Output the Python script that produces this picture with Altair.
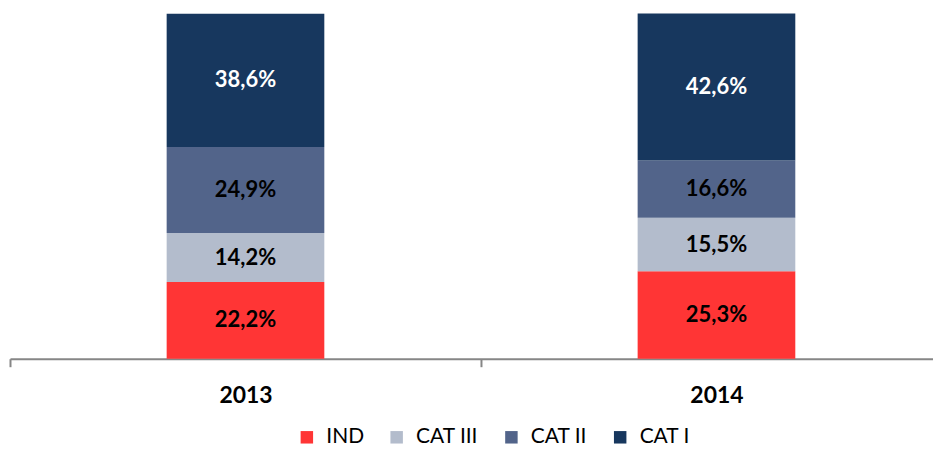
import altair as alt
import pandas as pd

years = ["2013", "2014"]
segments = ["IND", "CAT III", "CAT II", "CAT I"]
share_2013 = [22.2, 14.2, 24.9, 38.6]
share_2014 = [25.3, 15.5, 16.6, 42.6]

fill_colors = ["#FF3535", "#B3BCCC", "#52648A", "#17375E"]

rows = []
for year, vals in zip(years, [share_2013, share_2014]):
    for i, (seg, v) in enumerate(zip(segments, vals)):
        rows.append({"year": year, "segment": seg, "order": i, "value": v})
df = pd.DataFrame(rows)

base = alt.Chart(df).transform_stack(
    stack="value",
    groupby=["year"],
    as_=["y0", "y1"],
    sort=[alt.SortField("order", order="ascending")],
).transform_calculate(
    mid="(datum.y0 + datum.y1) / 2",
    label="replace(format(datum.value, '.1f'), '.', ',') + '%'",
)

x_enc = alt.X(
    "year:N",
    title=None,
    sort=years,
    scale=alt.Scale(range=[0, 944], paddingInner=0, paddingOuter=0),
    axis=alt.Axis(
        tickBand="extent",
        domainColor="#868686",
        domainWidth=2,
        tickColor="#868686",
        tickWidth=2,
        tickSize=8,
        labelFont="Lato",
        labelFontWeight="bold",
        labelFontSize=23,
        labelColor="black",
        labelPadding=18,
        labelAngle=0,
        grid=False,
    ),
)
y_scale = alt.Scale(domain=[0, 100], nice=False, zero=True)

bars = base.mark_bar(size=158).encode(
    x=x_enc,
    y=alt.Y("y0:Q", scale=y_scale, axis=None),
    y2="y1:Q",
    color=alt.Color(
        "segment:N",
        sort=segments,
        scale=alt.Scale(domain=segments, range=fill_colors),
        legend=alt.Legend(
            title=None,
            orient="none",
            legendX=287,
            legendY=414,
            direction="horizontal",
            symbolType="square",
            symbolSize=156,
            symbolStrokeWidth=0,
            labelFont="Lato",
            labelFontSize=21,
            labelColor="black",
            labelOffset=9,
            columnPadding=22,
            padding=0,
            labelLimit=300,
        ),
    ),
)

text = base.mark_text(font="Lato", fontWeight="bold", fontSize=22, baseline="middle", align="center").encode(
    x=alt.X("year:N", sort=years),
    y=alt.Y("mid:Q", scale=y_scale),
    text="label:N",
    fill=alt.condition(alt.datum.segment == "CAT I", alt.value("white"), alt.value("black")),
)

chart = alt.layer(bars, text).properties(
    width=925,
    height=346,
    padding={"left": 2, "top": 5, "right": 0, "bottom": 90},
    autosize=alt.AutoSizeParams(type="none"),
).configure_view(stroke=None)

chart.save("out.html", embed_options={"renderer": "svg", "actions": False})
